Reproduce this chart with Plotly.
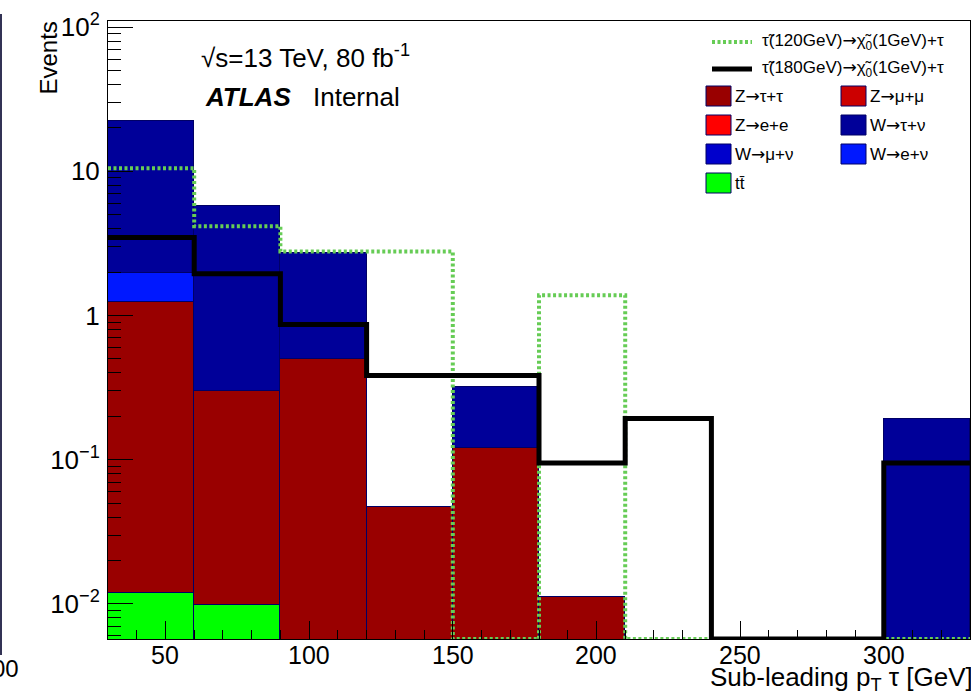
import numpy as np
import plotly.graph_objects as go

# ---- binning (sub-leading tau pT, GeV) ----
bin_edges = [30, 60, 90, 120, 150, 180, 210, 240, 270, 300, 330]

# ---- stacked backgrounds (events per bin), bottom -> top ----
ttbar    = [0.012, 0.0098, 0, 0, 0, 0, 0, 0, 0, 0]
z_ee     = [0, 0, 0, 0, 0, 0, 0, 0, 0, 0]
z_mumu   = [0, 0, 0, 0, 0, 0, 0, 0, 0, 0]
z_tautau = [1.22, 0.29, 0.50, 0.047, 0.121, 0.0112, 0, 0, 0, 0]
w_enu    = [0.73, 0, 0, 0, 0, 0, 0, 0, 0, 0]
w_munu   = [0, 0, 0, 0, 0, 0, 0, 0, 0, 0]
w_taunu  = [20.4, 5.4, 2.2, 0, 0.2, 0, 0, 0, 0, 0.193]

# ---- signal hypotheses ----
stau120 = [10.5, 4.15, 2.78, 2.78, 0, 1.38, 0, 0, 0, 0]
stau180 = [3.48, 1.95, 0.866, 0.383, 0.383, 0.095, 0.193, 0, 0, 0.095]

# ---- axis tick labels ----
x_ticks = [50, 100, 150, 200, 250, 300]
y_tickvals = [0.01, 0.1, 1, 10, 100]
y_ticktext = ["10<sup>\u22122</sup>", "10<sup>\u22121</sup>", "1", "10", "10<sup>2</sup>"]

ARROW = '<span style="font-family:DejaVu Sans">\u2192</span>'
bg_names = ["tt\u0304", "Z" + ARROW + "e+e", "Z" + ARROW + "\u03bc+\u03bc", "Z" + ARROW + "\u03c4+\u03c4",
            "W" + ARROW + "e+\u03bd", "W" + ARROW + "\u03bc+\u03bd", "W" + ARROW + "\u03c4+\u03bd"]
bg_values = [ttbar, z_ee, z_mumu, z_tautau, w_enu, w_munu, w_taunu]
bg_colors = ["#00ff00", "#ff0000", "#cc0000", "#990000", "#0018ff", "#0000cc", "#000099"]

sig_names = ["\u03c4\u0303(120GeV)" + ARROW + "\u03c7\u0303<sub>0</sub>(1GeV)+\u03c4",
             "\u03c4\u0303(180GeV)" + ARROW + "\u03c7\u0303<sub>0</sub>(1GeV)+\u03c4"]

FONT = "Liberation Sans, Arial, Helvetica, sans-serif"
Y_RANGE = [-2.243, 2.042]
X_RANGE = [30, 330]

# figure geometry (pixels)
W, H = 971, 693
ML, MR, MT, MB = 108, 1, 21, 54
PW, PH = W - ML - MR, H - MT - MB


def px(x):
    return (x - ML) / PW


def py(y):
    return (H - MB - y) / PH


edges = np.array(bin_edges, dtype=float)
centers = 0.5 * (edges[:-1] + edges[1:])
widths = np.diff(edges)

fig = go.Figure()

# stacked background histograms
for name, vals, col in zip(bg_names, bg_values, bg_colors):
    yv = [v if v > 0 else None for v in vals]
    fig.add_trace(go.Bar(
        x=centers, y=yv, width=widths, name=name,
        marker=dict(color=col, line=dict(color="#000066", width=1)),
        showlegend=False,
    ))

# signal step histograms (empty bins sit on the lower frame)
SIG_STYLE = [("#66cc55", 4, "3px,2.5px"), ("#000000", 5, "solid")]
floor = 10 ** Y_RANGE[0]
for vals, (col, wdt, dash) in zip([stau120, stau180], SIG_STYLE):
    yv = [max(v, floor) for v in vals]
    fig.add_trace(go.Scatter(
        x=edges, y=yv + [yv[-1]], mode="lines",
        line=dict(color=col, width=wdt, dash=dash, shape="hv"),
        showlegend=False, hoverinfo="skip",
    ))

fig.update_layout(
    width=W, height=H,
    margin=dict(l=ML, r=MR, t=MT, b=MB),
    barmode="stack", bargap=0,
    plot_bgcolor="white", paper_bgcolor="white",
    font=dict(family=FONT, color="black", size=22),
)

minor_y = [m * 10 ** k for k in range(-3, 3) for m in range(2, 10)]
fig.update_yaxes(
    type="log", range=Y_RANGE,
    tickvals=y_tickvals, ticktext=y_ticktext,
    ticks="inside", ticklen=25, tickwidth=1, tickcolor="black",
    minor=dict(tickvals=minor_y, ticks="inside", ticklen=13, tickcolor="black", tickwidth=1),
    showline=True, linecolor="black", linewidth=1, mirror=True,
    showgrid=False, zeroline=False,
    tickfont=dict(size=26), ticklabelstandoff=2,
)
fig.update_xaxes(
    range=X_RANGE,
    tickvals=x_ticks, showticklabels=False,
    ticks="inside", ticklen=18, tickwidth=1, tickcolor="black",
    minor=dict(dtick=10, tick0=0, ticks="inside", ticklen=9, tickcolor="black", tickwidth=1),
    showline=True, linecolor="black", linewidth=1, mirror=True,
    showgrid=False, zeroline=False,
)

ann = []
shapes = []

# x tick labels, placed just under the frame
for v in x_ticks:
    ann.append(dict(text=str(v), x=v, xref="x", y=py(655), yref="paper",
                    xanchor="center", yanchor="middle", showarrow=False,
                    font=dict(size=25)))

# axis titles
ann.append(dict(text="Events", x=px(48), y=py(20), xref="paper", yref="paper",
                xanchor="center", yanchor="top", textangle=-90, showarrow=False,
                font=dict(size=24)))
ann.append(dict(text="Sub-leading p<sub>T</sub> \u03c4 [GeV]", x=px(975), y=py(678),
                xref="paper", yref="paper", xanchor="right", yanchor="middle",
                showarrow=False, font=dict(size=26)))

# labels
ann.append(dict(text="\u221as=13 TeV, 80 fb<sup>-1</sup>", x=px(199), y=py(57),
                xref="paper", yref="paper", xanchor="left", yanchor="middle",
                showarrow=False, font=dict(size=26)))
ann.append(dict(text="<b><i>ATLAS</i></b>", x=px(203), y=py(97),
                xref="paper", yref="paper", xanchor="left", yanchor="middle",
                showarrow=False, font=dict(size=26)))
ann.append(dict(text="Internal", x=px(311), y=py(97),
                xref="paper", yref="paper", xanchor="left", yanchor="middle",
                showarrow=False, font=dict(size=26)))

# legend: signal lines
leg_font = dict(size=17)
for i, (name, (col, wdt, dash)) in enumerate(zip(sig_names, SIG_STYLE)):
    yc = [42, 69][i]
    shapes.append(dict(type="line", xref="paper", yref="paper",
                       x0=px(712), x1=px(752), y0=py(yc), y1=py(yc),
                       line=dict(color=col, width=wdt, dash=dash)))
    ann.append(dict(text=name, x=px(760), y=py(yc), xref="paper", yref="paper",
                    xanchor="left", yanchor="middle", showarrow=False, font=leg_font))

# legend: background boxes in two columns
leg_order = [3, 2, 1, 6, 5, 4, 0]   # Ztautau, Zmumu, Zee, Wtaunu, Wmunu, Wenu, ttbar
row_y = [96, 125, 154, 183]
col_x = [706, 841]
for k, idx in enumerate(leg_order):
    r, c = divmod(k, 2)
    x0, yc = col_x[c], row_y[r]
    shapes.append(dict(type="rect", xref="paper", yref="paper",
                       x0=px(x0), x1=px(x0 + 25), y0=py(yc - 10), y1=py(yc + 10),
                       fillcolor=bg_colors[idx], line=dict(color="#000066", width=1)))
    ann.append(dict(text=bg_names[idx], x=px(x0 + 27), y=py(yc), xref="paper", yref="paper",
                    xanchor="left", yanchor="middle", showarrow=False, font=leg_font))

# neighbouring panel edge
shapes.append(dict(type="line", xref="paper", yref="paper",
                   x0=px(1), x1=px(1), y0=py(14), y1=py(655),
                   line=dict(color="#333355", width=2)))
ann.append(dict(text="00", x=px(21), y=py(668), xref="paper", yref="paper",
                xanchor="right", yanchor="middle", showarrow=False, font=dict(size=24)))

fig.update_layout(annotations=ann, shapes=shapes)
fig.write_html("out.html")
